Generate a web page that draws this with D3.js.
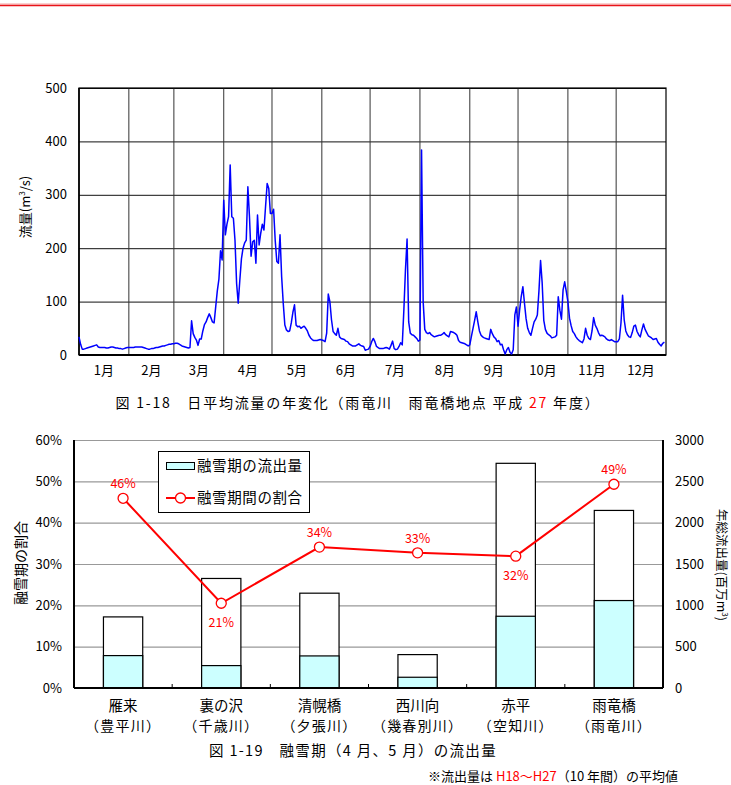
<!DOCTYPE html>
<html>
<head>
<meta charset="utf-8">
<script src="https://cdn.jsdelivr.net/npm/d3@7"></script>
<style>
  body { margin: 0; background: #fff; }
  svg { display: block; }
  text { font-family: "Noto Sans CJK JP", "Noto Sans", sans-serif; fill: #000; }
</style>
</head>
<body>
<div id="chart"></div>
<script>
// daily mean flow (m3/s), one array per month
const flowJan = [34, 20, 11, 11, 12, 13, 14, 15, 16, 17, 18, 19, 15, 14, 14, 14, 14, 13, 13, 14, 15, 15, 14, 13, 13, 12, 12, 11, 12, 13, 14]
const flowFeb = [14, 14, 14, 14, 15, 15, 15, 15, 15, 14, 13, 12, 11, 11, 12, 12, 13, 14, 14, 15, 16, 17, 17, 18, 19, 20, 20, 21]
const flowMar = [21, 22, 22, 21, 19, 17, 16, 15, 14, 13, 14, 64, 40, 33, 28, 18, 30, 30, 45, 57, 62, 70, 77, 70, 62, 60, 90, 120, 142, 195, 178]
const flowApr = [290, 225, 245, 259, 356, 259, 256, 215, 134, 97, 140, 180, 200, 210, 215, 315, 259, 185, 212, 215, 172, 262, 206, 228, 245, 234, 278, 321, 312, 265]
const flowMay = [265, 273, 215, 175, 172, 225, 147, 97, 56, 47, 44, 45, 60, 80, 94, 56, 53, 54, 50, 52, 54, 50, 45, 37, 32, 29, 27, 27, 27, 28, 29]
const flowJun = [28, 27, 25, 41, 114, 100, 66, 44, 40, 37, 50, 34, 31, 30, 29, 26, 25, 21, 19, 17, 17, 17, 19, 21, 18, 17, 16, 9, 10, 11]
const flowJul = [16, 25, 31, 25, 16, 14, 12, 12, 12, 13, 14, 13, 11, 18, 26, 12, 10, 11, 16, 23, 19, 84, 160, 217, 62, 41, 38, 37, 34, 31, 26]
const flowAug = [28, 384, 100, 48, 42, 40, 42, 38, 36, 34, 35, 36, 37, 37, 39, 42, 38, 36, 34, 44, 43, 42, 40, 37, 27, 24, 23, 22, 21, 19, 17]
const flowSep = [19, 35, 50, 65, 81, 62, 45, 37, 34, 32, 31, 30, 29, 48, 40, 34, 31, 25, 27, 19, 20, 10, 2, 10, 14, 5, 2, 10, 75, 90]
const flowOct = [54, 85, 110, 128, 97, 68, 50, 42, 37, 50, 62, 67, 75, 120, 177, 135, 65, 48, 41, 38, 36, 32, 33, 34, 37, 109, 84, 67, 122, 137, 119]
const flowNov = [100, 69, 55, 44, 40, 34, 30, 27, 25, 23, 30, 50, 37, 31, 29, 45, 70, 56, 50, 42, 36, 37, 36, 34, 30, 28, 27, 29, 27, 25]
const flowDec = [25, 25, 30, 60, 112, 66, 45, 38, 34, 33, 42, 54, 56, 44, 38, 34, 47, 58, 48, 42, 36, 34, 32, 29, 30, 31, 24, 20, 17, 22, 24]
const monthLabels = ["1月", "2月", "3月", "4月", "5月", "6月", "7月", "8月", "9月", "10月", "11月", "12月"]
const flowTicks = [0, 100, 200, 300, 400, 500]

// snowmelt season (Apr, May) outflow
const stations = ["雁来", "裏の沢", "清幌橋", "西川向", "赤平", "雨竜橋"]
const rivers = ["（豊平川）", "（千歳川）", "（夕張川）", "（幾春別川）", "（空知川）", "（雨竜川）"]
const totalFlow = [860, 1325, 1147, 404, 2718, 2148]     // 年総流出量 (百万m3)
const meltFlow = [392, 271, 388, 130, 868, 1058]         // 融雪期の流出量 (百万m3)
const meltRatio = [45.9, 20.5, 34.1, 32.7, 31.9, 49.3]   // 融雪期間の割合 (%)
const ratioLabels = ["46%", "21%", "34%", "33%", "32%", "49%"]
const ratioTicks = [0, 10, 20, 30, 40, 50, 60]
const volumeTicks = [0, 500, 1000, 1500, 2000, 2500, 3000]

const monthFlows = [flowJan, flowFeb, flowMar, flowApr, flowMay, flowJun, flowJul, flowAug, flowSep, flowOct, flowNov, flowDec]
const daily = monthFlows.flat()

const W = 731, H = 785
const svg = d3.select("#chart").append("svg").attr("width", W).attr("height", H)

// red rule at the top of the page
svg.append("line").attr("x1", 0).attr("x2", W).attr("y1", 4).attr("y2", 4).attr("stroke", "#f5a0a0").attr("stroke-width", 1)
svg.append("line").attr("x1", 0).attr("x2", W).attr("y1", 5.5).attr("y2", 5.5).attr("stroke", "#e8141a").attr("stroke-width", 1.5)

// ---------- chart 1: daily flow ----------
const x1 = d3.scaleLinear().domain([0, 365]).range([79, 666])
const y1 = d3.scaleLinear().domain([0, 500]).range([355, 88])

const monthStarts = []
let acc = 0
for (const m of monthFlows) { monthStarts.push(acc); acc += m.length }

const g1 = svg.append("g")

// horizontal grid + tick labels
const yAx1 = g1.append("g").attr("transform", `translate(${x1.range()[0]},0)`)
    .call(d3.axisLeft(y1).tickValues(flowTicks).tickSize(-(x1.range()[1] - x1.range()[0])).tickPadding(12))
yAx1.select(".domain").remove()
yAx1.selectAll(".tick line").attr("stroke", "#111").attr("stroke-width", 1)
yAx1.selectAll(".tick text").attr("font-size", 13).attr("font-family", "Noto Sans CJK JP")

// vertical month lines
g1.selectAll("line.mon").data(monthStarts.slice(1)).enter().append("line")
    .attr("class", "mon")
    .attr("x1", d => x1(d)).attr("x2", d => x1(d))
    .attr("y1", y1(500)).attr("y2", y1(0))
    .attr("stroke", "#333").attr("stroke-width", 1)

// frame
g1.append("rect").attr("x", x1(0)).attr("y", y1(500))
    .attr("width", x1(365) - x1(0)).attr("height", y1(0) - y1(500))
    .attr("fill", "none").attr("stroke", "#000").attr("stroke-width", 1.2)
g1.append("line").attr("x1", x1(0)).attr("x2", x1(365)).attr("y1", y1(0)).attr("y2", y1(0)).attr("stroke", "#000").attr("stroke-width", 2)
g1.append("line").attr("x1", x1(0)).attr("x2", x1(0)).attr("y1", y1(500)).attr("y2", y1(0)).attr("stroke", "#000").attr("stroke-width", 1.6)

// month labels
g1.selectAll("text.mlab").data(monthLabels).enter().append("text")
    .attr("class", "mlab")
    .attr("x", (d, i) => x1(monthStarts[i] + monthFlows[i].length / 2))
    .attr("y", 375)
    .attr("text-anchor", "middle").attr("font-size", 13)
    .text(d => d)

// flow line
const line1 = d3.line().x((d, i) => x1(i)).y(d => y1(d))
g1.append("path").datum(daily)
    .attr("d", line1).attr("fill", "none")
    .attr("stroke", "#0000ff").attr("stroke-width", 1.5).attr("stroke-linejoin", "round")

// y title
const yt1 = g1.append("text").attr("transform", "translate(30,207) rotate(-90)")
    .attr("text-anchor", "middle").attr("font-size", 13)
yt1.append("tspan").text("流量(m")
yt1.append("tspan").attr("font-size", 8).attr("dy", -5).text("3")
yt1.append("tspan").attr("dy", 5).text("/s)")

// caption 1
const cap1 = svg.append("text").attr("x", 358).attr("y", 408).attr("text-anchor", "middle")
    .attr("font-size", 14).attr("letter-spacing", 1.8)
cap1.append("tspan").text("図 1-18　日平均流量の年変化（雨竜川　雨竜橋地点 平成 ")
cap1.append("tspan").style("fill", "#ff0000").text("27")
cap1.append("tspan").text(" 年度）")

// ---------- chart 2: snowmelt outflow ----------
const x2 = d3.scaleBand().domain(stations).range([74, 663]).paddingInner(0.6).paddingOuter(0.3)
const yL = d3.scaleLinear().domain([0, 60]).range([688, 440])
const yR = d3.scaleLinear().domain([0, 3000]).range([688, 440])

const g2 = svg.append("g")

const yAxL = g2.append("g").attr("transform", "translate(74,0)")
    .call(d3.axisLeft(yL).tickValues(ratioTicks).tickFormat(d => d + "%").tickSize(-(663 - 74)).tickPadding(12))
yAxL.select(".domain").remove()
yAxL.selectAll(".tick line").attr("stroke", "#999").attr("stroke-width", 1.2)
yAxL.selectAll(".tick text").attr("font-size", 13).attr("font-family", "Noto Sans CJK JP")

const yAxR = g2.append("g").attr("transform", "translate(663,0)")
    .call(d3.axisRight(yR).tickValues(volumeTicks).tickFormat(d3.format("d")).tickSize(0).tickPadding(12))
yAxR.select(".domain").remove()
yAxR.selectAll(".tick text").attr("font-size", 13).attr("font-family", "Noto Sans CJK JP")

// bars: annual total behind, snowmelt part in front
const step = x2.step()
g2.selectAll("rect.total").data(stations).enter().append("rect")
    .attr("class", "total")
    .attr("x", d => x2(d)).attr("width", x2.bandwidth())
    .attr("y", (d, i) => yR(totalFlow[i])).attr("height", (d, i) => yR(0) - yR(totalFlow[i]))
    .attr("fill", "#fff").attr("stroke", "#000").attr("stroke-width", 1.2)
g2.selectAll("rect.melt").data(stations).enter().append("rect")
    .attr("class", "melt")
    .attr("x", d => x2(d)).attr("width", x2.bandwidth())
    .attr("y", (d, i) => yR(meltFlow[i])).attr("height", (d, i) => yR(0) - yR(meltFlow[i]))
    .attr("fill", "#ccffff").attr("stroke", "#000").attr("stroke-width", 1.2)

// axes lines
g2.append("line").attr("x1", 74).attr("x2", 74).attr("y1", 440).attr("y2", 688).attr("stroke", "#000").attr("stroke-width", 2)
g2.append("line").attr("x1", 663).attr("x2", 663).attr("y1", 440).attr("y2", 688).attr("stroke", "#000").attr("stroke-width", 2)
g2.append("line").attr("x1", 74).attr("x2", 663).attr("y1", 688).attr("y2", 688).attr("stroke", "#000").attr("stroke-width", 2)
g2.selectAll("line.sep").data(stations.slice(1)).enter().append("line")
    .attr("class", "sep")
    .attr("x1", d => x2(d) - (step - x2.bandwidth()) / 2).attr("x2", d => x2(d) - (step - x2.bandwidth()) / 2)
    .attr("y1", 688).attr("y2", 684).attr("stroke", "#000").attr("stroke-width", 1)

// ratio line + markers
const cx = (d, i) => x2(stations[i]) + x2.bandwidth() / 2
const line2 = d3.line().x((d, i) => cx(d, i)).y(d => yL(d))
g2.append("path").datum(meltRatio).attr("d", line2)
    .attr("fill", "none").attr("stroke", "#ff0000").attr("stroke-width", 2)
g2.selectAll("circle.pt").data(meltRatio).enter().append("circle")
    .attr("class", "pt")
    .attr("cx", cx).attr("cy", d => yL(d)).attr("r", 5)
    .attr("fill", "#fff").attr("stroke", "#ff0000").attr("stroke-width", 1.3)

const labelBelow = new Set(["裏の沢", "赤平"])
g2.selectAll("text.rl").data(ratioLabels).enter().append("text")
    .attr("class", "rl")
    .attr("x", (d, i) => cx(d, i))
    .attr("y", (d, i) => yL(meltRatio[i]) + (labelBelow.has(stations[i]) ? 24 : -10))
    .attr("text-anchor", "middle").attr("font-size", 12.5)
    .style("fill", "#ff0000")
    .text(d => d)

// category labels
g2.selectAll("text.st").data(stations).enter().append("text")
    .attr("class", "st")
    .attr("x", d => x2(d) + x2.bandwidth() / 2).attr("y", 711)
    .attr("text-anchor", "middle").attr("font-size", 14.5)
    .text(d => d)
g2.selectAll("text.rv").data(rivers).enter().append("text")
    .attr("class", "rv")
    .attr("x", (d, i) => x2(stations[i]) + x2.bandwidth() / 2).attr("y", 731)
    .attr("text-anchor", "middle").attr("font-size", 14).attr("letter-spacing", 1.2)
    .text(d => d)

// legend
const lg = g2.append("g")
lg.append("rect").attr("x", 158.5).attr("y", 451.5).attr("width", 151).attr("height", 61)
    .attr("fill", "#fff").attr("stroke", "#000").attr("stroke-width", 1)
lg.append("rect").attr("x", 166.5).attr("y", 462.5).attr("width", 28).attr("height", 7)
    .attr("fill", "#ccffff").attr("stroke", "#000").attr("stroke-width", 1)
lg.append("text").attr("x", 197).attr("y", 471).attr("font-size", 14.5).attr("letter-spacing", 0.6).text("融雪期の流出量")
lg.append("line").attr("x1", 166).attr("x2", 195).attr("y1", 498).attr("y2", 498)
    .attr("stroke", "#ff0000").attr("stroke-width", 2)
lg.append("circle").attr("cx", 180.5).attr("cy", 498).attr("r", 5)
    .attr("fill", "#fff").attr("stroke", "#ff0000").attr("stroke-width", 1.3)
lg.append("text").attr("x", 197).attr("y", 503).attr("font-size", 14.5).attr("letter-spacing", 0.6).text("融雪期間の割合")

// axis titles
g2.append("text").attr("transform", "translate(26,563) rotate(-90)")
    .attr("text-anchor", "middle").attr("font-size", 14).text("融雪期の割合")
const yt2 = g2.append("text").attr("transform", "translate(717,565) rotate(90)")
    .attr("text-anchor", "middle").attr("font-size", 12.5)
yt2.append("tspan").text("年総流出量(百万m")
yt2.append("tspan").attr("font-size", 8).attr("dy", -5).text("3")
yt2.append("tspan").attr("dy", 5).text(")")

// caption 2
svg.append("text").attr("x", 353).attr("y", 756).attr("text-anchor", "middle")
    .attr("font-size", 14.5).attr("letter-spacing", 1.3)
    .text("図 1-19　融雪期（4 月、5 月）の流出量")

// footnote (serif)
const fn = svg.append("text").attr("x", 428).attr("y", 781).attr("font-size", 13)
    .attr("font-family", "'Liberation Serif', 'Noto Sans CJK JP', serif")
fn.append("tspan").text("※流出量は ")
fn.append("tspan").style("fill", "#ff0000").text("H18～H27")
fn.append("tspan").text("（10 年間）の平均値")
</script>
</body>
</html>
